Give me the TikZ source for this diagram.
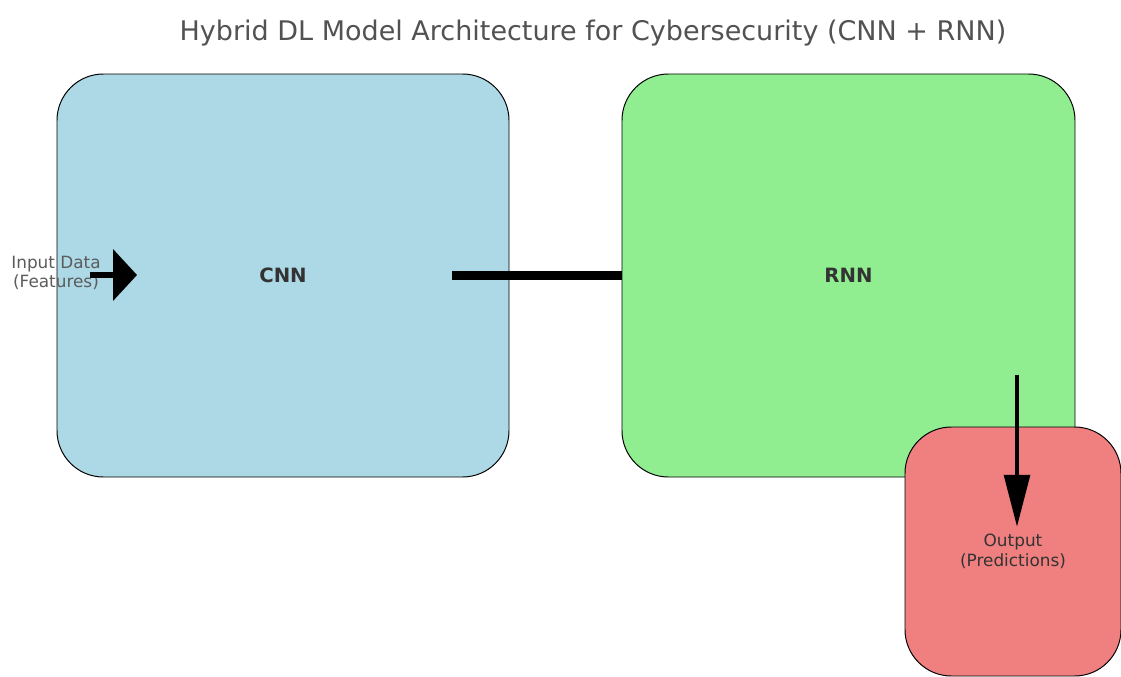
\documentclass[tikz,border=0pt]{standalone}
\usepackage{fontspec}
\setmainfont{DejaVu Sans}
\usetikzlibrary{arrows.meta}
\definecolor{cnnblue}{HTML}{ADD8E6}
\definecolor{rnngreen}{HTML}{90EE90}
\definecolor{outred}{HTML}{F08080}
\definecolor{txt}{HTML}{333333}
\tikzset{
  block/.style={draw=black, line width=0.7pt, rounded corners=33pt, inner sep=0pt, text=txt},
  bigarrow/.style={line width=3.6pt, -{Triangle[length=17pt,width=36pt]}},
}
\begin{document}
\begin{tikzpicture}[x=0.025cm,y=-0.025cm]
\useasboundingbox[fill=white] (0,0) rectangle (1121,677);
\node[text=txt!85, font=\fontsize{19.2}{22}\selectfont] (title) at (593,33) {Hybrid DL Model Architecture for Cybersecurity (CNN + RNN)};
\node[block, fill=cnnblue, minimum width=452*0.025cm, minimum height=403*0.025cm, font=\bfseries\fontsize{14}{16}\selectfont] (cnn) at (283,275.5) {CNN};
\node[block, fill=rnngreen, minimum width=453*0.025cm, minimum height=403*0.025cm, font=\bfseries\fontsize{14}{16}\selectfont] (rnn) at (848.5,275.5) {RNN};
\coordinate (cnnout) at (452,275);
\draw[line width=6.4pt] (cnnout) -- (cnnout -| rnn.west);
\node[block, fill=outred, minimum width=216*0.025cm, minimum height=249*0.025cm, font=\fontsize{12}{14}\selectfont, align=center] (out) at (1013,551.5) {Output\\(Predictions)};
\node[text=txt!80, font=\fontsize{12}{14}\selectfont, align=center, inner sep=0pt] (input) at (56,273) {Input Data\\(Features)};
\coordinate (inA) at (90,275);
\coordinate (inB) at (137,275);
\draw[bigarrow] (inA) -- (inB);
\coordinate (rA) at (1017,375);
\coordinate (rB) at (1017,527);
\draw[line width=3.4pt, -{Triangle[length=37pt,width=18pt]}] (rA) -- (rB);
\end{tikzpicture}
\end{document}
